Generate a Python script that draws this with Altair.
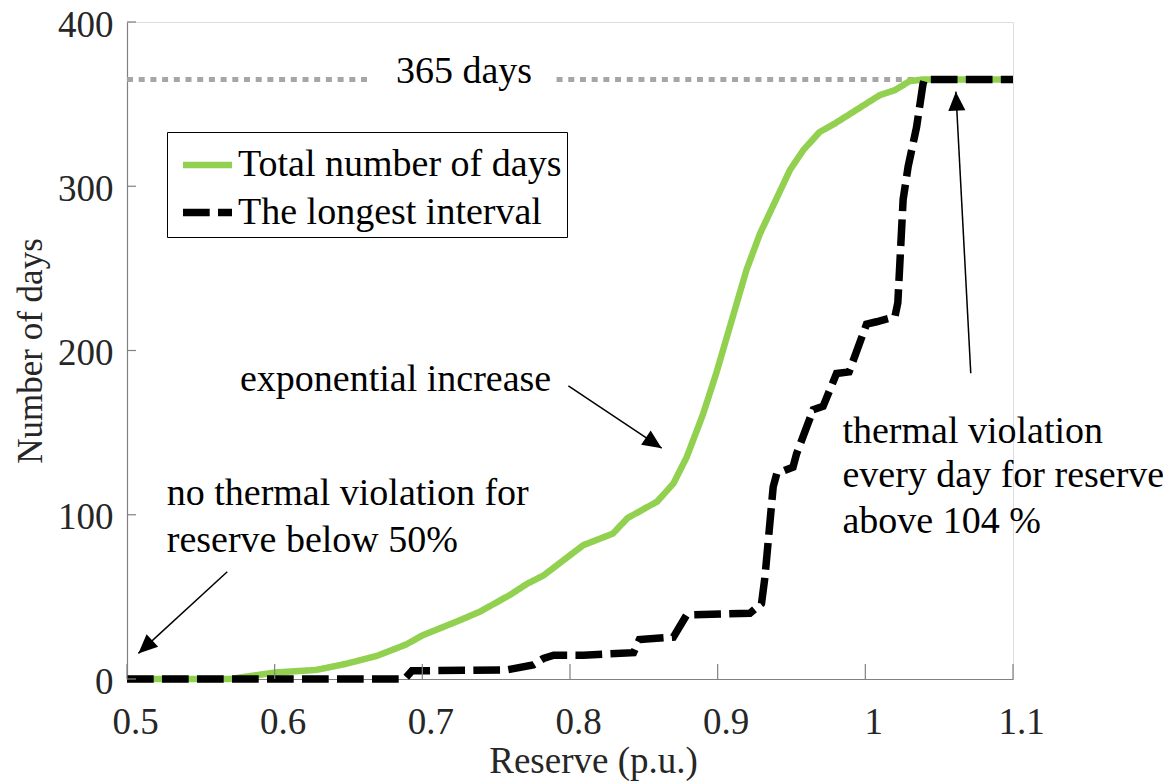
import math
import altair as alt
import pandas as pd

# ---------------- data ----------------
SERIES = ["Total number of days", "The longest interval"]
COLORS = ["#92d050", "#000000"]

total_x = [0.50, 0.57, 0.581, 0.601, 0.628, 0.647, 0.669, 0.689, 0.700, 0.726,
           0.739, 0.759, 0.771, 0.782, 0.809, 0.829, 0.839, 0.859, 0.870, 0.879,
           0.890, 0.899, 0.9195, 0.9286, 0.949, 0.958, 0.969, 0.979, 1.0098, 1.020,
           1.030, 1.039, 1.10]
total_y = [0, 0, 1.5, 4, 5.5, 9, 14, 21, 26.5, 36,
           41, 51, 58, 63, 81.5, 88.5, 98, 108, 119, 135,
           161, 186, 249, 271, 310, 322, 333, 338, 355.5, 358.5,
           364, 365, 365]

interval_x = [0.50, 0.688, 0.693, 0.757, 0.760, 0.775, 0.782, 0.789, 0.809, 0.843,
              0.847, 0.870, 0.879, 0.9218, 0.9297, 0.932, 0.9376, 0.940, 0.951, 0.9534,
              0.9647, 0.9714, 0.9805, 0.989, 1.0008, 1.0076, 1.020, 1.022, 1.0256, 1.029,
              1.0347, 1.039, 1.040, 1.10]
interval_y = [0, 0, 5, 5.5, 6, 8.5, 12.5, 14.5, 14.5, 16,
              24, 25.5, 39, 40, 46, 62, 117, 125, 129, 137,
              164, 166, 186, 187, 216, 217.5, 220.5, 229, 292, 312,
              336, 362, 365, 365]

x_ticks = [0.5, 0.6, 0.7, 0.8, 0.9, 1.0, 1.1]
y_ticks = [0, 100, 200, 300, 400]

# 365-day reference line (two pieces around the label)
ref_x0 = [0.5, 0.7909]
ref_x1 = [0.6657, 1.1]
ref_y = [365, 365]

# annotations
note_text = ["365 days", "exponential increase", "no thermal violation for",
             "reserve below 50%", "thermal violation", "every day for reserve",
             "above 104 %"]
note_x = [0.7282, 0.5765, 0.5269, 0.5269, 0.9845, 0.9845, 0.9845]
note_y = [362.7, 175.3, 105.9, 77.5, 143.5, 117.1, 88.7]
note_align = ["center", "left", "left", "left", "left", "left", "left"]

arrow_x0 = [0.5679, 0.7989, 1.0714]
arrow_y0 = [65.3, 178.4, 186.1]
arrow_x1 = [0.5077, 0.8621, 1.0613]
arrow_y1 = [15.6, 140.5, 357.6]

# ---------------- layout / style ----------------
W, H = 886, 657
XD, YD = [0.5, 1.1], [0, 400]
FONT = "Liberation Serif"
AXIS_GRAY = "#808080"
LABEL_COLOR = "#262626"

xs = alt.Scale(domain=XD, nice=False, zero=False)
ys = alt.Scale(domain=YD, nice=False, zero=False)

x_axis = alt.Axis(
    values=x_ticks, format=".1~f", title="Reserve (p.u.)", grid=False,
    ticks=False, tickSize=0, domainColor=AXIS_GRAY, domainWidth=1.2,
    labelFont=FONT, labelFontSize=37, labelColor=LABEL_COLOR, labelPadding=25,
    labelOffset=8, labelFlush=False, labelOverlap=False,
    titleFont=FONT, titleFontSize=37, titleFontWeight="normal", titleColor=LABEL_COLOR,
    titleX=466, titleY=93, titleBaseline="alphabetic", titleAlign="center",
)
y_axis = alt.Axis(
    values=y_ticks, format="d", title="Number of days", grid=False,
    ticks=False, tickSize=0, domainColor=AXIS_GRAY, domainWidth=1.2,
    labelFont=FONT, labelFontSize=37, labelColor=LABEL_COLOR, labelPadding=14,
    labelOffset=3, labelOverlap=False, labelFlush=False,
    titleFont=FONT, titleFontSize=35, titleFontWeight="normal", titleColor=LABEL_COLOR,
    titleX=-79, titleY=328.5, titleAngle=270, titleBaseline="bottom", titleAlign="center",
)


def X(field):
    return alt.X(field, type="quantitative", scale=xs, axis=x_axis, title="Reserve (p.u.)")


def Y(field):
    return alt.Y(field, type="quantitative", scale=ys, axis=y_axis, title="Number of days")


lines_df = pd.DataFrame({
    "x": total_x + interval_x,
    "y": total_y + interval_y,
    "series": [SERIES[0]] * len(total_x) + [SERIES[1]] * len(interval_x),
    "order": list(range(len(total_x))) + list(range(len(interval_x))),
})

legend = alt.Legend(
    title=None, orient="none", legendX=40, legendY=110,
    fillColor="white", strokeColor="black", padding=5,
    symbolType="stroke", symbolSize=2401, symbolStrokeWidth=6.5, symbolOffset=7,
    labelFont=FONT, labelFontSize=38, labelColor="black", labelOffset=2,
    labelLimit=800, rowPadding=0,
)

ref = alt.Chart(pd.DataFrame({"x0": ref_x0, "x1": ref_x1, "y": ref_y})).mark_rule(
    color="#a6a6a6", strokeWidth=5, strokeDash=[6, 5.7]
).encode(x=X("x0"), x2="x1:Q", y=Y("y"))

lines = alt.Chart(lines_df).mark_line().encode(
    x=X("x"),
    y=Y("y"),
    color=alt.Color("series:N", scale=alt.Scale(domain=SERIES, range=COLORS), legend=legend),
    strokeDash=alt.StrokeDash("series:N",
                              scale=alt.Scale(domain=SERIES, range=[[1, 0], [26.7, 8.3]]),
                              legend=legend),
    strokeWidth=alt.StrokeWidth("series:N",
                                scale=alt.Scale(domain=SERIES, range=[6.5, 7.5]),
                                legend=None),
    order="order:Q",
)

# inward tick marks (MATLAB style)
xt = alt.Chart(pd.DataFrame({"v": x_ticks})).mark_rule(color=AXIS_GRAY, strokeWidth=1.2).encode(
    x=X("v"), y=alt.value(H), y2=alt.value(H - 15)
)
yt = alt.Chart(pd.DataFrame({"v": y_ticks})).mark_rule(color=AXIS_GRAY, strokeWidth=1.2).encode(
    y=Y("v"), x=alt.value(0), x2=alt.value(9)
)

# arrows
px_x = W / (XD[1] - XD[0])
px_y = H / (YD[1] - YD[0])
angles = []
for a, b, c, d in zip(arrow_x0, arrow_y0, arrow_x1, arrow_y1):
    dx = (c - a) * px_x
    dy = -(d - b) * px_y
    angles.append(math.degrees(math.atan2(dx, -dy)) % 360)
arrow_df = pd.DataFrame({"x0": arrow_x0, "y0": arrow_y0, "x1": arrow_x1, "y1": arrow_y1, "ang": angles})

arrow_lines = alt.Chart(arrow_df).mark_rule(color="black", strokeWidth=1.5).encode(
    x=X("x0"), y=Y("y0"), x2="x1:Q", y2="y1:Q",
)
arrow_heads = alt.Chart(arrow_df).mark_point(
    shape="M0,0L0.45,1L-0.45,1Z", filled=True, size=1444, color="black", opacity=1, strokeWidth=0
).encode(
    x=X("x1"), y=Y("y1"),
    angle=alt.Angle("ang:Q", scale=None),
)

notes_df = pd.DataFrame({"t": note_text, "x": note_x, "y": note_y, "align": note_align})
notes_c = alt.Chart(notes_df).transform_filter("datum.align == 'center'").mark_text(
    font=FONT, fontSize=38, color="black", align="center", baseline="alphabetic"
).encode(x=X("x"), y=Y("y"), text="t:N")
notes_l = alt.Chart(notes_df).transform_filter("datum.align == 'left'").mark_text(
    font=FONT, fontSize=38, color="black", align="left", baseline="alphabetic"
).encode(x=X("x"), y=Y("y"), text="t:N")

chart = alt.layer(
    ref, lines, xt, yt, arrow_lines, arrow_heads, notes_c, notes_l
).properties(
    width=W, height=H,
    autosize=alt.AutoSizeParams(type="none"),
    padding={"left": 119, "top": 14, "right": 150, "bottom": 104},
    background="white",
).configure_view(stroke="transparent", strokeWidth=0).configure_legend(strokeWidth=2).configure(font=FONT)

chart.save("out.html", embed_options={"renderer": "svg", "actions": False})
